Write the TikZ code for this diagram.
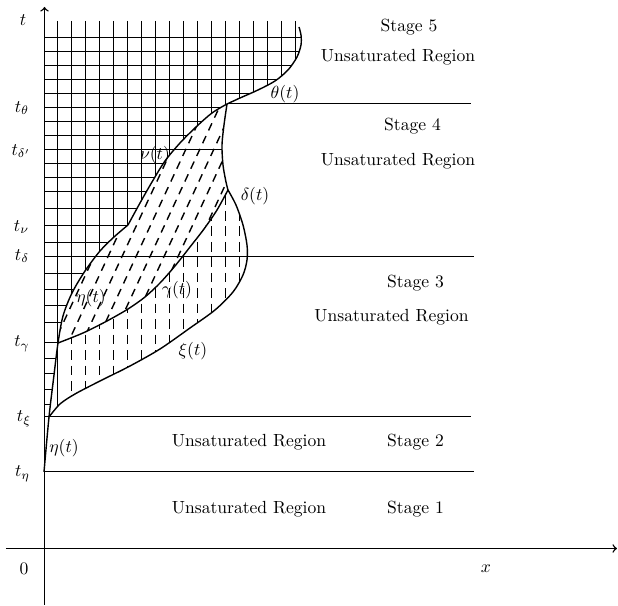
\documentclass[tikz,border=0pt]{standalone}
\begin{document}
\begin{tikzpicture}[x=0.2mm,y=-0.2mm,line width=0.8pt]
\tikzset{
  gridline/.style={line width=0.8pt},
  vdashline/.style={line width=0.8pt,dash pattern=on 5.5pt off 3.3pt},
  sdashline/.style={line width=0.8pt,dash pattern=on 4.5pt off 3.5pt},
  lbl/.style={inner sep=0pt},
  curve/.style={line width=0.8pt},
  arrowaxis/.style={line width=0.8pt,->}
}
\useasboundingbox (0,0) rectangle (618,606);

% named coordinates
\coordinate (Yb) at (44.5,605);
\coordinate (Yt) at (44.5,7);
\coordinate (Xl) at (6,548.5);
\coordinate (Xr) at (617,548.5);
\coordinate (thL) at (227,103.5);
\coordinate (thR) at (471,103.5);
\coordinate (dpL) at (44,149.5);
\coordinate (dpR) at (222,149.5);
\coordinate (dL) at (44,256.5);
\coordinate (dR) at (474,256.5);
\coordinate (xiL) at (44,416.5);
\coordinate (xiR) at (471,416.5);
\coordinate (etL) at (44,471.5);
\coordinate (etR) at (474,471.5);
\coordinate (g1T) at (57.5,21);
\coordinate (g1B) at (57.5,406);

% ---------- grid region ----------
\begin{scope}
\clip (44,21) -- (300,21)
  -- plot[smooth] coordinates {(299,27) (301,35) (301,45) (297,57) (288,70) (275,81) (258,90) (240,98) (227,104)}
  -- plot[smooth] coordinates {(227,104) (212,113) (196,127) (180,143) (165,161) (152,182) (140,203) (128,225)}
  -- plot[smooth] coordinates {(128,225) (114,237) (100,251) (85,271) (72,293) (63,316) (58,343) (54,375) (49,417) (44,472)}
  -- cycle;
\foreach \y in {37.5,51.5,65.5,79.5,93.5,107.5,121.5,135.5,149.5,163.5,177.5,191.5,208.5,225.5,242.5,256.5,273.5,289.5,305.5,322.5,342.5,358.5,373.5,389.5,404.5}
  \draw[gridline] (44,\y) -- (310,\y);
\foreach \k in {2,...,18}
  \draw[gridline] ({43.5+14*\k},21) -- ({43.5+14*\k},480);
\end{scope}
\draw[gridline] (g1T) -- (g1B);

% ---------- vertical dashed region ----------
\begin{scope}
\clip plot[smooth] coordinates {(58,343) (83,333) (107,321) (128,309) (145,297) (160,283) (175,266) (190,247) (204,229) (217,210) (228,190)}
  -- plot[smooth] coordinates {(228,190) (236,205) (243,225) (247,245) (247,260) (243,275) (233,292) (215,310) (190,328) (160,349) (130,366) (100,381) (75,394) (60,404) (49,417)}
  -- plot[smooth] coordinates {(49,417) (54,375) (58,343)}
  -- cycle;
\foreach \k in {2,...,14}
  \draw[vdashline] ({43.5+14*\k},180) -- ({43.5+14*\k},420);
\end{scope}

% ---------- slanted dashed region ----------
\begin{scope}
\clip plot[smooth] coordinates {(58,343) (63,316) (72,293) (85,271) (100,251) (114,237) (128,225)}
  -- plot[smooth] coordinates {(128,225) (140,203) (152,182) (165,161) (180,143) (196,127) (212,113) (227,104)}
  -- plot[smooth] coordinates {(227,104) (224,125) (222,145) (223,165) (226,182) (228,190)}
  -- plot[smooth] coordinates {(228,190) (217,210) (204,229) (190,247) (175,266) (160,283) (145,297) (128,309) (107,321) (83,333) (58,343)}
  -- cycle;
\foreach \s in {-10,4,...,220}
  \draw[sdashline] (\s,360) -- ++(130,-280);
\end{scope}

% ---------- curves ----------
\draw[curve] plot[smooth] coordinates {(44,472) (49,417) (54,375) (58,343) (63,316) (72,293) (85,271) (100,251) (114,237) (128,225)};
\draw[curve] plot[smooth] coordinates {(128,225) (140,203) (152,182) (165,161) (180,143) (196,127) (212,113) (227,104)};
\draw[curve] plot[smooth] coordinates {(227,104) (240,98) (258,90) (275,81) (288,70) (297,57) (301,45) (301,35) (299,27)};
\draw[curve] plot[smooth] coordinates {(227,104) (224,125) (222,145) (223,165) (226,182) (228,190)};
\draw[curve] plot[smooth] coordinates {(228,190) (236,205) (243,225) (247,245) (247,260) (243,275) (233,292) (215,310) (190,328) (160,349) (130,366) (100,381) (75,394) (60,404) (49,417)};
\draw[curve] plot[smooth] coordinates {(58,343) (83,333) (107,321) (128,309) (145,297) (160,283) (175,266) (190,247) (204,229) (217,210) (228,190)};

% ---------- horizontal time lines ----------
\draw[gridline] (thL) -- (thR);
\draw[gridline] (dpL) -- (dpR);
\draw[gridline] (dL) -- (dR);
\draw[gridline] (xiL) -- (xiR);
\draw[gridline] (etL) -- (etR);

% ---------- axes ----------
\draw[arrowaxis] (Yb) -- (Yt);
\draw[arrowaxis] (Xl) -- (Xr);

% ---------- axis labels ----------
\node[lbl] (lt) at (23,20) {$t$};
\node[lbl] (lth) at (22,108) {$t_\theta$};
\node[lbl] (ldp) at (21,151) {$t_{\delta'}$};
\node[lbl] (lnu) at (21.5,227) {$t_\nu$};
\node[lbl] (ld) at (22,256) {$t_\delta$};
\node[lbl] (lg) at (22,344) {$t_\gamma$};
\node[lbl] (lxi) at (24,419) {$t_\xi$};
\node[lbl] (let) at (22.5,474) {$t_\eta$};
\node[lbl] (l0) at (24,569) {$0$};
\node[lbl] (lx) at (486,569) {$x$};

% ---------- curve labels ----------
\node[lbl] (cth) at (285,94) {$\theta(t)$};
\node[lbl] (cnu) at (155,155) {$\nu(t)$};
\node[lbl] (cd) at (255,196) {$\delta(t)$};
\node[lbl] (ce1) at (91,298) {$\eta(t)$};
\node[lbl] (cg) at (177,290) {$\gamma(t)$};
\node[lbl] (cxi) at (193,351) {$\xi(t)$};
\node[lbl] (ce2) at (64,448) {$\eta(t)$};

% ---------- stage labels ----------
\node[lbl] (s5) at (409,27) {Stage 5};
\node[lbl] (u5) at (398,57.5) {Unsaturated Region};
\node[lbl] (s4) at (412.5,126.5) {Stage 4};
\node[lbl] (u4) at (398,161) {Unsaturated Region};
\node[lbl] (s3) at (415.5,283) {Stage 3};
\node[lbl] (u3) at (391.5,317.5) {Unsaturated Region};
\node[lbl] (s2) at (415.5,442.5) {Stage 2};
\node[lbl] (u2) at (249,442.5) {Unsaturated Region};
\node[lbl] (s1) at (415.5,509) {Stage 1};
\node[lbl] (u1) at (249,509) {Unsaturated Region};
\end{tikzpicture}
\end{document}
